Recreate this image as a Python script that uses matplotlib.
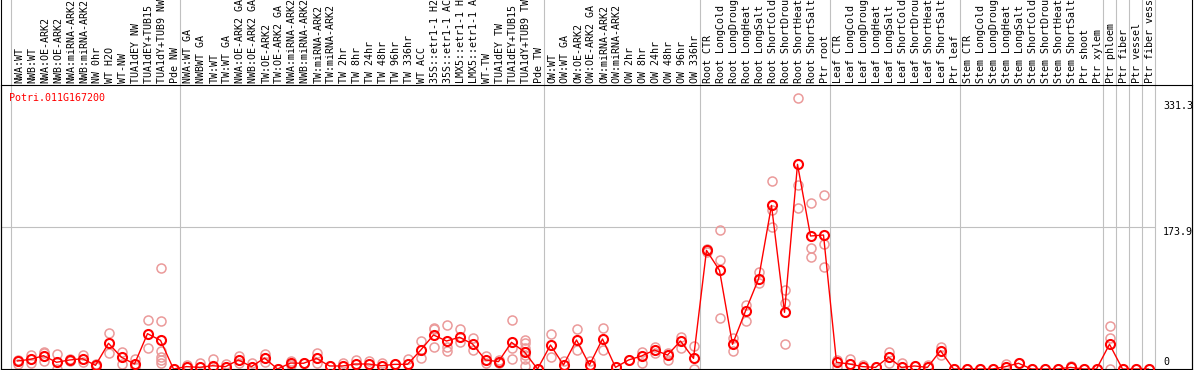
import matplotlib
matplotlib.use('Agg')
import matplotlib.pyplot as plt
from matplotlib.lines import Line2D
import matplotlib.transforms as mtransforms

gene = 'Potri.011G167200'

samples = [
    'NWA:WT', 'NWB:WT', 'NWA:OE-ARK2', 'NWB:OE-ARK2', 'NWA:miRNA-ARK2', 'NWB:miRNA-ARK2',
    'NW 0hr', 'WT H2O', 'WT-NW', 'TUA1dEY NW', 'TUA1dEY+TUB15 NW', 'TUA1dY+TUB9 NW', 'Pde NW',
    'NWA:WT GA', 'NWBWT GA', 'TW:WT', 'TW:WT GA', 'NWA:OE-ARK2 GA', 'NWB:OE-ARK2 GA',
    'TW:OE-ARK2', 'TW:OE-ARK2 GA', 'NWA:miRNA-ARK2 GA', 'NWB:miRNA-ARK2 GA', 'TW:miRNA-ARK2',
    'TW:miRNA-ARK2 GA', 'TW 2hr', 'TW 8hr', 'TW 24hr', 'TW 48hr', 'TW 96hr', 'TW 336hr',
    'WT ACC', '35S::etr1-1 H2O', '35S::etr1-1 ACC', 'LMX5::etr1-1 H2O', 'LMX5::etr1-1 ACC',
    'WT-TW', 'TUA1dEY TW', 'TUA1dEY+TUB15 TW', 'TUA1dY+TUB9 TW', 'Pde TW',
    'OW:WT', 'OW:WT GA', 'OW:OE-ARK2', 'OW:OE-ARK2 GA', 'OW:miRNA-ARK2', 'OW:miRNA-ARK2 GA',
    'OW 2hr', 'OW 8hr', 'OW 24hr', 'OW 48hr', 'OW 96hr', 'OW 336hr',
    'Root CTR', 'Root LongCold', 'Root LongDrought', 'Root LongHeat', 'Root LongSalt',
    'Root ShortCold', 'Root ShortDrought', 'Root ShortHeat', 'Root ShortSalt', 'Ptr root',
    'Leaf CTR', 'Leaf LongCold', 'Leaf LongDrought', 'Leaf LongHeat', 'Leaf LongSalt',
    'Leaf ShortCold', 'Leaf ShortDrought', 'Leaf ShortHeat', 'Leaf ShortSalt', 'Ptr leaf',
    'Stem CTR', 'Stem LongCold', 'Stem LongDrought', 'Stem LongHeat', 'Stem LongSalt',
    'Stem ShortCold', 'Stem ShortDrought', 'Stem ShortHeat', 'Stem ShortSalt', 'Ptr shoot',
    'Ptr xylem', 'Ptr phloem', 'Ptr fiber', 'Ptr vessel', 'Ptr fiber vessel',
]

means = [
    9.8, 11.8, 16.3, 8.2, 11.0, 12.6, 4.5, 31.4, 14.3, 6.1, 43.2, 35.0, 0,
    2.9, 2.0, 4.0, 2.9, 11.0, 2.9, 13.4, 0, 7.3, 7.0, 13.0, 3.7, 3.7, 6.1, 6.1, 4.0,
    5.7, 5.7, 22.8, 41.6, 34.2, 38.8, 30.6, 11.0, 9.0, 32.6, 20.8, 0,
    29.3, 4.9, 35.5, 4.9, 36.7, 2.0, 11.0, 15.9, 23.2, 17.1, 34.2, 13.0,
    145.0, 120.6, 30.2, 70.9, 110.0, 200.0, 69.3, 250.2, 162.6, 163.8,
    8.2, 6.1, 2.9, 2.0, 14.3, 2.0, 3.7, 2.0, 22.4, 0,
    0, 0, 0, 2.9, 7.0, 0, 0, 0, 2.0, 0, 0,
    30.2, 0, 0, 0,
]

reps = [
    [11.4, 6.5], [17.1, 7.7], [21.0, 19.0, 10.2], [18.3, 0], [12.0, 10.0], [16.6, 8.2],
    [6.1, 3.0], [43.6, 19.2], [21.0, 5.7], [12.2, 3.0], [59.5, 25.3],
    [123.0, 58.3, 22.0, 15.0, 11.0, 7.7], [0],
    [5.0], [7.0], [11.8], [6.0], [15.9, 7.7], [7.7], [18.3, 8.5], [0], [9.8, 4.5], [7.0],
    [19.2, 7.0], [3.7], [7.0], [11.0], [10.2], [7.7], [5.7], [12.2], [34.2, 13.0],
    [50.5, 48.9, 26.5], [53.8, 26.5, 22.4], [48.5, 33.4], [37.5, 23.2], [15.9, 7.7],
    [11.0, 7.0], [59.5, 25.3, 11.8], [35.5, 31.4, 25.3, 17.1, 12.2, 3.7], [0],
    [42.8, 14.3], [10.2], [48.5, 23.2], [10.2], [49.7, 23.2], [2.0], [11.0], [21.0, 7.7],
    [27.3, 19.0], [20.0, 11.0], [39.5, 25.3], [28.1, 0],
    [147.0, 143.0], [169.5, 132.9, 62.0], [37.5, 22.0], [77.9, 58.7], [118.0, 104.7],
    [229.3, 194.4, 174.0], [96.6, 81.0, 30.2], [331.3, 225.0, 196.4],
    [202.6, 147.5, 137.3], [212.3, 152.4, 125.0],
    [11.0, 3.0], [11.8], [5.0], [2.0], [21.0, 7.0], [7.0], [3.7], [5.5], [27.3, 17.1], [0],
    [0], [0], [0], [5.7], [7.0], [0], [0], [0], [4.0], [0], [0],
    [52.6, 37.5, 0], [0], [0], [0],
]

# group separators (after these sample indexes)
group_ends = [-1, 12, 40, 52, 62, 72, 83, 84, 85, 86, 87]
scale_marks = [0, 173.9, 331.3]

W, H = 1194, 370
fig = plt.figure(figsize=(W / 100, H / 100), dpi=100)

def fx(px):
    return px / W

def fy(py):
    return 1 - py / H

ax = fig.add_axes([fx(1), fy(369), fx(1192) - fx(1), fy(85) - fy(369)])
x_left = (1 - 17.5) / 13
x_right = (1192 - 17.5) / 13
ax.set_xlim(x_left, x_right)
ax.set_ylim(0, (369 - 85) / 0.818)
ax.set_xticks([])
ax.set_yticks([])
for s in ax.spines.values():
    s.set_color('black')
    s.set_linewidth(0.8)

grey = '#c0c0c0'
top_frac = 369 / (369 - 85)
for g in group_ends:
    ax.axvline(g + 0.5, 0, top_frac, color=grey, lw=0.8, clip_on=False, zorder=1)
ax.hlines(173.9, x_left, 87.5, color=grey, lw=0.8, zorder=1)

# outer border lines
fig.add_artist(Line2D([fx(1), fx(1)], [0, 1], color='black', lw=0.8))
fig.add_artist(Line2D([fx(1192), fx(1192)], [0, 1], color='black', lw=0.8))

xs = list(range(len(samples)))
for i, r in enumerate(reps):
    ax.plot([i] * len(r), r, 'o', mfc='none', mec='#eb9a9a', ms=6.5, mew=1.1, zorder=2)
ax.plot(xs, means, '-', color='red', lw=1.0, zorder=3)
ax.plot(xs, means, 'o', mfc='none', mec='red', ms=6.5, mew=1.5, zorder=4)

# sample labels
trans = mtransforms.blended_transform_factory(ax.transData, fig.transFigure)
for i, name in enumerate(samples):
    fig.text(0, 0, '')
    ax.text(i + 0.15, fy(83), name, rotation=90, ha='center', va='bottom',
            family='DejaVu Sans Mono', fontsize=7.2, transform=trans, clip_on=False)

# value marks on right
xv = (1163 - 17.5) / 13
for v in scale_marks:
    if v == 0:
        ax.text(xv, v + 3, '0', ha='left', va='bottom', family='DejaVu Sans Mono', fontsize=7.2)
    else:
        ax.text(xv, v - 4 if v > 300 else v, f'{v}', ha='left', va='top',
                family='DejaVu Sans Mono', fontsize=7.2, clip_on=True)

fig.text(fx(9), fy(93), gene, color='red', ha='left', va='top',
         family='DejaVu Sans Mono', fontsize=7.2)

fig.savefig('out.png', dpi=100)
